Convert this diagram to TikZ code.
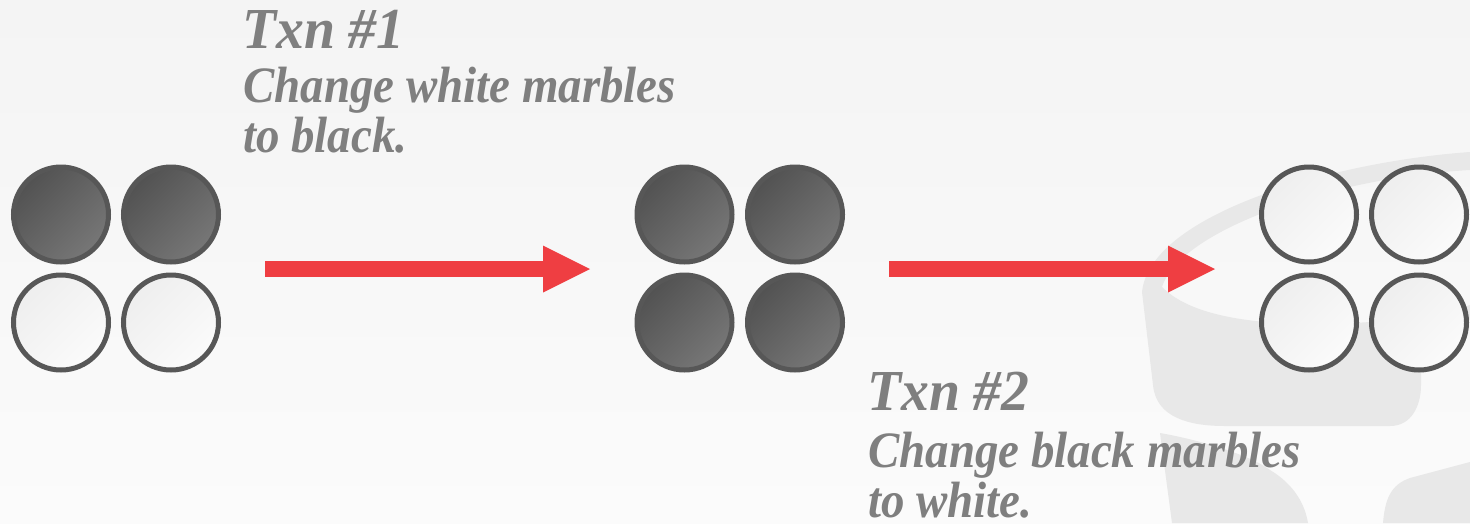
\documentclass[tikz,border=0pt]{standalone}
\usepackage{fontspec}
\setmainfont{Liberation Serif}
\usetikzlibrary{arrows.meta}

\definecolor{bgtop}{HTML}{F4F4F4}
\definecolor{bgbot}{HTML}{FBFBFB}
\definecolor{logogray}{HTML}{E8E8E8}
\definecolor{rim}{HTML}{575757}
\definecolor{darkA}{HTML}{525252}
\definecolor{darkB}{HTML}{777777}
\definecolor{lightA}{HTML}{EEEEEE}
\definecolor{lightB}{HTML}{FBFBFB}
\definecolor{flow}{HTML}{EF3E42}
\definecolor{caption}{HTML}{7F7F7F}

\tikzset{
  marble/.style={circle, draw=rim, line width=5pt, minimum size=95pt, inner sep=0pt},
  darkmarble/.style={marble, top color=darkA, bottom color=darkB, shading angle=45},
  lightmarble/.style={marble, top color=lightA, bottom color=lightB, shading angle=45},
  flowarrow/.style={draw=flow, line width=16pt,
    -{Triangle[length=47pt, width=47pt, line width=0pt, fill=flow]}},
  txntitle/.style={anchor=base west, text=caption, inner sep=0pt, xscale=0.96,
    font=\fontsize{58}{58}\selectfont\bfseries\itshape},
  txnline/.style={anchor=base west, text=caption, inner sep=0pt, xscale=0.92,
    font=\fontsize{51}{51}\selectfont\bfseries\itshape},
}

\begin{document}
\begin{tikzpicture}[x=1pt, y=-1pt]
  % canvas
  \useasboundingbox (0,0) rectangle (1470,523);
  \shade[top color=bgtop, bottom color=bgbot] (0,0) rectangle (1470,523);

  % faint logo in the background
  \fill[logogray, even odd rule]
    (1470,152) .. controls (1330,162) and (1150,215) .. (1142,292)
    -- (1153,385) .. controls (1156,418) and (1190,426) .. (1225,426)
    -- (1390,426) .. controls (1412,426) and (1421,405) .. (1421,385)
    -- (1421,330) -- (1470,320) -- cycle
    (1470,170) .. controls (1330,178) and (1180,230) .. (1162,287)
    .. controls (1185,310) and (1230,322) .. (1300,324)
    .. controls (1380,325) and (1440,315) .. (1470,305) -- cycle;
  \fill[logogray] (1160,433) .. controls (1200,440) and (1250,455) .. (1270,470)
    .. controls (1295,485) and (1305,505) .. (1308,523) -- (1172,523) -- cycle;
  \fill[logogray] (1383,523) .. controls (1385,500) and (1390,485) .. (1410,478)
    -- (1470,462) -- (1470,523) -- cycle;

  % marbles before Txn #1
  \node[darkmarble]  (s0a) at (61,214.5) {};
  \node[darkmarble]  (s0b) at (171,214.5) {};
  \node[lightmarble] (s0c) at (61,322.5) {};
  \node[lightmarble] (s0d) at (171,322.5) {};

  % marbles after Txn #1
  \node[darkmarble] (s1a) at (684.5,214.5) {};
  \node[darkmarble] (s1b) at (795,214.5) {};
  \node[darkmarble] (s1c) at (684.5,322.5) {};
  \node[darkmarble] (s1d) at (795,322.5) {};

  % marbles after Txn #2
  \node[lightmarble] (s2a) at (1309,214.5) {};
  \node[lightmarble] (s2b) at (1419,214.5) {};
  \node[lightmarble] (s2c) at (1309,322.5) {};
  \node[lightmarble] (s2d) at (1419,322.5) {};

  % transitions
  \coordinate (t1s) at (265,269);
  \coordinate (t1e) at (590,269);
  \coordinate (t2s) at (889,269);
  \coordinate (t2e) at (1215,269);
  \draw[flowarrow] (t1s) -- (t1e);
  \draw[flowarrow] (t2s) -- (t2e);

  % captions
  \node[txntitle] (c1a) at (242,48)  {Txn \#1};
  \node[txnline]  (c1b) at (243,102) {Change white marbles};
  \node[txnline]  (c1c) at (243,152) {to black.};

  \node[txntitle] (c2a) at (867,410) {Txn \#2};
  \node[txnline]  (c2b) at (868,467) {Change black marbles};
  \node[txnline]  (c2c) at (868,517) {to white.};
\end{tikzpicture}
\end{document}
